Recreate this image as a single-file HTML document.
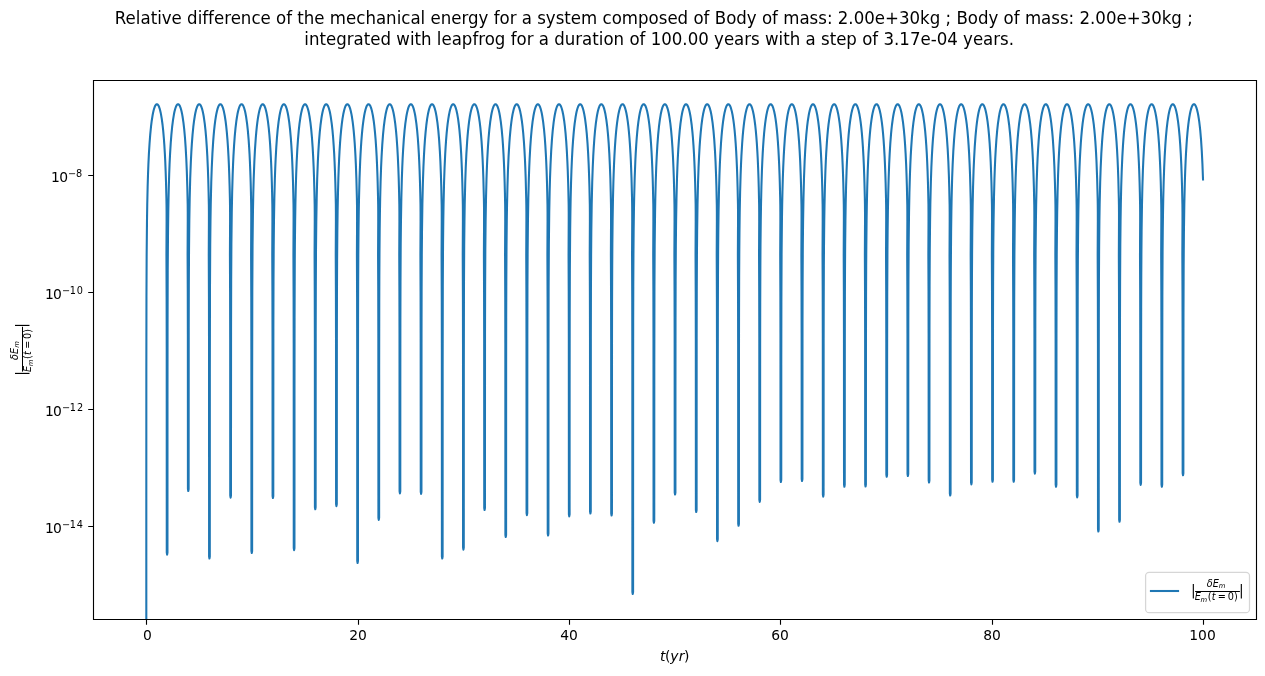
<!DOCTYPE html>
<html><head><meta charset="utf-8"><title>Relative difference of the mechanical energy</title><style>html,body{margin:0;padding:0;background:#fff;overflow:hidden;width:1265px;height:676px}svg{display:block;will-change:transform}text{font-kerning:normal}</style></head><body>
<svg width="1265" height="676" viewBox="0 0 1265 676" font-family="'DejaVu Sans','Liberation Sans',sans-serif" style="font-variant-ligatures:none"><rect x="0" y="0" width="1265" height="676" fill="#fff"/><clipPath id="ax"><rect x="93.470" y="80.000" width="1162.530" height="539.000"/></clipPath><path d="M146.31 3000.00 L146.31 500.20 L146.34 369.90 L146.46 296.94 L146.65 255.26 L146.99 220.78 L147.24 204.56 L147.63 187.22 L148.01 174.44 L148.40 164.37 L148.91 153.67 L149.56 143.19 L150.20 134.90 L150.97 126.98 L151.74 120.72 L152.64 115.03 L153.03 113.03 L153.54 110.73 L154.06 108.82 L154.57 107.26 L154.96 106.31 L155.47 105.33 L155.86 104.79 L156.37 104.35 L156.63 104.24 L156.89 104.20 L157.14 104.24 L157.40 104.35 L157.92 104.79 L158.30 105.33 L158.82 106.31 L159.20 107.26 L159.72 108.82 L160.10 110.22 L160.62 112.42 L161.00 114.33 L161.77 118.94 L162.55 124.74 L163.19 130.70 L163.83 138.00 L164.35 145.09 L164.86 153.67 L165.25 161.45 L165.63 170.84 L166.02 182.57 L166.40 198.08 L166.52 204.56 L166.59 212.02 L166.60 220.78 L166.44 255.26 L166.62 296.94 L166.72 349.05 L166.77 552.32 L166.77 552.65 L167.12 554.65 L167.47 552.65 L167.47 552.32 L167.49 401.17 L167.56 322.99 L167.72 270.88 L168.02 231.39 L168.28 212.02 L168.54 198.08 L168.79 187.22 L169.18 174.44 L169.56 164.37 L170.08 153.67 L170.72 143.19 L171.37 134.90 L172.14 126.98 L173.04 119.81 L173.94 114.33 L174.45 111.83 L174.97 109.73 L175.48 108.00 L175.99 106.61 L176.51 105.54 L176.77 105.13 L177.15 104.65 L177.41 104.43 L177.67 104.28 L177.92 104.21 L178.31 104.24 L178.69 104.43 L178.95 104.65 L179.47 105.33 L179.98 106.31 L180.50 107.62 L181.01 109.26 L181.52 111.27 L182.04 113.67 L182.55 116.50 L183.45 122.65 L184.22 129.42 L185.00 138.00 L185.64 147.07 L186.28 158.70 L186.80 170.84 L187.31 187.22 L187.69 204.56 L187.75 212.02 L187.76 220.78 L187.60 255.26 L187.77 291.73 L187.86 333.42 L187.93 488.95 L188.28 490.95 L188.63 488.95 L188.72 328.21 L188.82 286.51 L189.02 250.05 L189.31 220.78 L189.70 198.08 L190.21 178.33 L190.86 161.45 L191.37 151.36 L191.89 143.19 L192.53 134.90 L193.30 126.98 L194.07 120.72 L194.97 115.03 L195.36 113.03 L195.87 110.73 L196.39 108.82 L196.90 107.26 L197.42 106.04 L197.93 105.13 L198.45 104.53 L198.70 104.35 L198.96 104.24 L199.22 104.20 L199.47 104.24 L199.73 104.35 L199.99 104.53 L200.50 105.13 L201.02 106.04 L201.53 107.26 L202.05 108.82 L202.56 110.73 L202.95 112.42 L203.46 115.03 L203.85 117.28 L204.75 123.67 L205.52 130.70 L206.16 138.00 L206.80 147.07 L207.32 156.12 L207.83 167.49 L208.22 178.33 L208.60 192.35 L208.85 204.56 L208.92 212.02 L208.92 220.78 L208.77 255.26 L208.95 296.94 L209.04 349.05 L209.10 556.45 L209.45 558.45 L209.80 556.45 L209.84 369.90 L209.99 286.51 L210.22 244.85 L210.48 220.78 L210.74 204.56 L211.25 182.57 L211.77 167.49 L212.41 153.67 L213.18 141.38 L213.57 136.42 L214.08 130.70 L214.59 125.84 L215.24 120.72 L215.75 117.28 L216.39 113.67 L217.04 110.73 L217.68 108.40 L218.07 107.26 L218.58 106.04 L218.97 105.33 L219.48 104.65 L219.87 104.35 L220.12 104.24 L220.38 104.20 L220.64 104.24 L220.90 104.35 L221.28 104.65 L221.80 105.33 L222.18 106.04 L222.70 107.26 L223.08 108.40 L223.60 110.22 L223.98 111.83 L224.75 115.75 L225.53 120.72 L226.17 125.84 L226.81 132.05 L227.45 139.65 L227.97 147.07 L228.48 156.12 L228.87 164.37 L229.25 174.44 L229.64 187.22 L229.90 198.08 L230.01 204.56 L230.08 212.02 L230.09 220.78 L229.93 255.26 L230.10 291.73 L230.20 338.63 L230.26 494.99 L230.26 495.65 L230.61 497.65 L230.96 495.65 L230.97 494.99 L231.05 328.21 L231.17 281.30 L231.39 244.85 L231.77 212.02 L232.16 192.35 L232.67 174.44 L233.06 164.37 L233.44 156.12 L234.09 145.09 L234.73 136.42 L235.50 128.18 L236.40 120.72 L236.92 117.28 L237.43 114.33 L237.95 111.83 L238.46 109.73 L238.97 108.00 L239.49 106.61 L240.00 105.54 L240.26 105.13 L240.65 104.65 L240.90 104.43 L241.16 104.28 L241.42 104.21 L241.80 104.24 L242.19 104.43 L242.45 104.65 L242.96 105.33 L243.60 106.61 L244.12 108.00 L244.63 109.73 L245.15 111.83 L245.66 114.33 L246.18 117.28 L247.08 123.67 L247.85 130.70 L248.62 139.65 L249.13 147.07 L249.52 153.67 L249.90 161.45 L250.29 170.84 L250.68 182.57 L250.93 192.35 L251.18 204.56 L251.25 212.02 L251.25 220.78 L251.10 255.26 L251.28 296.94 L251.37 349.05 L251.43 551.05 L251.78 553.05 L252.13 551.05 L252.16 375.11 L252.30 291.73 L252.55 244.85 L252.94 212.02 L253.32 192.35 L253.71 178.33 L254.35 161.45 L254.99 149.16 L255.77 138.00 L256.28 132.05 L256.80 126.98 L257.31 122.65 L257.82 118.94 L258.34 115.75 L258.98 112.42 L259.37 110.73 L259.88 108.82 L260.27 107.62 L260.78 106.31 L261.17 105.54 L261.68 104.79 L262.20 104.35 L262.45 104.24 L262.71 104.20 L262.97 104.24 L263.22 104.35 L263.74 104.79 L264.25 105.54 L264.64 106.31 L265.15 107.62 L265.54 108.82 L266.05 110.73 L266.44 112.42 L267.21 116.50 L267.98 121.67 L268.75 128.18 L269.40 134.90 L270.04 143.19 L270.55 151.36 L271.07 161.45 L271.46 170.84 L271.84 182.57 L272.10 192.35 L272.34 204.56 L272.41 212.02 L272.42 220.78 L272.26 255.26 L272.42 291.73 L272.53 338.63 L272.59 494.99 L272.59 496.05 L272.94 498.05 L273.29 496.05 L273.37 328.21 L273.50 281.30 L273.72 244.85 L273.97 220.78 L274.36 198.08 L274.87 178.33 L275.26 167.49 L275.65 158.70 L276.29 147.07 L276.93 138.00 L277.70 129.42 L278.60 121.67 L279.50 115.75 L280.02 113.03 L280.53 110.73 L281.05 108.82 L281.56 107.26 L282.07 106.04 L282.72 104.95 L283.23 104.43 L283.49 104.28 L283.88 104.20 L284.26 104.28 L284.52 104.43 L285.03 104.95 L285.68 106.04 L286.19 107.26 L286.70 108.82 L287.22 110.73 L287.73 113.03 L288.25 115.75 L289.15 121.67 L290.05 129.42 L290.82 138.00 L291.33 145.09 L291.85 153.67 L292.23 161.45 L292.62 170.84 L293.01 182.57 L293.26 192.35 L293.51 204.56 L293.58 212.02 L293.58 220.78 L293.43 255.26 L293.61 296.94 L293.70 343.84 L293.76 548.15 L294.11 550.15 L294.46 548.15 L294.48 395.96 L294.56 317.78 L294.77 260.47 L294.88 244.85 L295.14 220.78 L295.40 204.56 L295.78 187.22 L296.17 174.44 L296.68 161.45 L297.32 149.16 L297.97 139.65 L298.74 130.70 L299.51 123.67 L300.41 117.28 L300.80 115.03 L301.31 112.42 L301.82 110.22 L302.34 108.40 L302.85 106.92 L303.37 105.78 L303.88 104.95 L304.40 104.43 L304.65 104.28 L304.91 104.21 L305.30 104.24 L305.55 104.35 L306.07 104.79 L306.58 105.54 L307.10 106.61 L307.61 108.00 L308.13 109.73 L308.64 111.83 L309.15 114.33 L309.54 116.50 L310.44 122.65 L311.21 129.42 L311.98 138.00 L312.63 147.07 L313.14 156.12 L313.66 167.49 L314.04 178.33 L314.43 192.35 L314.67 204.56 L314.74 212.02 L314.75 220.78 L314.59 255.26 L314.75 291.73 L314.86 338.63 L314.92 507.25 L315.27 509.25 L315.62 507.25 L315.70 333.42 L315.81 286.51 L316.00 250.05 L316.30 220.78 L316.69 198.08 L317.20 178.33 L317.85 161.45 L318.36 151.36 L319.00 141.38 L319.77 132.05 L320.55 124.74 L321.45 118.09 L321.83 115.75 L322.35 113.03 L322.86 110.73 L323.38 108.82 L323.89 107.26 L324.40 106.04 L324.92 105.13 L325.43 104.53 L325.69 104.35 L325.95 104.24 L326.33 104.21 L326.59 104.28 L326.98 104.53 L327.23 104.79 L327.75 105.54 L328.26 106.61 L328.78 108.00 L329.29 109.73 L329.81 111.83 L330.32 114.33 L330.83 117.28 L331.73 123.67 L332.51 130.70 L333.15 138.00 L333.66 145.09 L334.18 153.67 L334.56 161.45 L334.95 170.84 L335.33 182.57 L335.59 192.35 L335.84 204.56 L335.90 212.02 L335.91 220.78 L335.75 255.26 L335.92 291.73 L336.02 338.63 L336.09 504.15 L336.44 506.15 L336.79 504.15 L336.85 338.63 L336.94 296.94 L337.10 260.47 L337.34 231.39 L337.60 212.02 L337.98 192.35 L338.37 178.33 L338.75 167.49 L339.14 158.70 L339.52 151.36 L340.04 143.19 L340.55 136.42 L341.20 129.42 L341.84 123.67 L342.48 118.94 L343.25 114.33 L344.03 110.73 L344.80 108.00 L345.18 106.92 L345.70 105.78 L346.08 105.13 L346.60 104.53 L346.98 104.28 L347.24 104.21 L347.50 104.21 L347.75 104.28 L348.01 104.43 L348.40 104.79 L348.91 105.54 L349.30 106.31 L349.68 107.26 L350.07 108.40 L350.71 110.73 L351.36 113.67 L352.00 117.28 L352.64 121.67 L353.16 125.84 L353.67 130.70 L354.18 136.42 L354.70 143.19 L355.08 149.16 L355.47 156.12 L355.86 164.37 L356.37 178.33 L356.89 198.08 L357.00 204.56 L357.07 212.02 L357.08 220.78 L356.92 255.26 L357.10 296.94 L357.20 349.05 L357.25 560.95 L357.60 562.95 L357.95 560.95 L357.99 369.90 L358.05 317.78 L358.16 281.30 L358.30 255.26 L358.50 231.39 L358.76 212.02 L359.02 198.08 L359.53 178.33 L360.18 161.45 L360.56 153.67 L360.95 147.07 L361.33 141.38 L361.85 134.90 L362.36 129.42 L362.88 124.74 L363.52 119.81 L364.16 115.75 L364.80 112.42 L365.58 109.26 L366.22 107.26 L366.60 106.31 L366.99 105.54 L367.38 104.95 L367.89 104.43 L368.28 104.24 L368.53 104.20 L368.79 104.24 L369.05 104.35 L369.31 104.53 L369.69 104.95 L370.08 105.54 L370.46 106.31 L370.98 107.62 L371.36 108.82 L372.13 111.83 L372.91 115.75 L373.68 120.72 L374.32 125.84 L374.96 132.05 L375.61 139.65 L376.12 147.07 L376.64 156.12 L377.02 164.37 L377.41 174.44 L377.66 182.57 L378.05 198.08 L378.17 204.56 L378.23 212.02 L378.24 220.78 L378.08 255.26 L378.25 291.73 L378.35 338.63 L378.42 517.85 L378.77 519.85 L379.12 517.85 L379.15 375.11 L379.25 302.15 L379.34 276.09 L379.50 250.05 L379.67 231.39 L379.93 212.02 L380.18 198.08 L380.57 182.57 L381.08 167.49 L381.60 156.12 L382.24 145.09 L383.01 134.90 L383.78 126.98 L384.68 119.81 L385.58 114.33 L385.97 112.42 L386.48 110.22 L387.00 108.40 L387.51 106.92 L388.03 105.78 L388.54 104.95 L389.06 104.43 L389.31 104.28 L389.57 104.21 L389.83 104.21 L390.08 104.28 L390.34 104.43 L390.60 104.65 L391.11 105.33 L391.63 106.31 L392.14 107.62 L392.66 109.26 L393.17 111.27 L393.56 113.03 L394.07 115.75 L394.46 118.09 L395.23 123.67 L396.00 130.70 L396.64 138.00 L397.29 147.07 L397.80 156.12 L398.31 167.49 L398.70 178.33 L399.09 192.35 L399.33 204.56 L399.40 212.02 L399.41 220.78 L399.25 255.26 L399.41 291.73 L399.51 333.42 L399.58 489.77 L399.58 491.35 L399.93 493.35 L400.28 491.35 L400.31 385.54 L400.37 322.99 L400.49 281.30 L400.70 244.85 L400.96 220.78 L401.35 198.08 L401.86 178.33 L402.25 167.49 L402.63 158.70 L403.15 149.16 L403.79 139.65 L404.56 130.70 L405.33 123.67 L406.23 117.28 L406.62 115.03 L407.13 112.42 L407.65 110.22 L408.16 108.40 L408.68 106.92 L409.19 105.78 L409.71 104.95 L410.22 104.43 L410.48 104.28 L410.73 104.21 L411.12 104.24 L411.38 104.35 L411.76 104.65 L412.02 104.95 L412.53 105.78 L413.05 106.92 L413.56 108.40 L414.08 110.22 L414.59 112.42 L415.11 115.03 L415.49 117.28 L416.39 123.67 L417.16 130.70 L417.81 138.00 L418.32 145.09 L418.84 153.67 L419.22 161.45 L419.61 170.84 L419.99 182.57 L420.25 192.35 L420.50 204.56 L420.56 212.02 L420.57 220.78 L420.41 255.26 L420.58 291.73 L420.67 333.42 L420.75 491.85 L421.10 493.85 L421.45 491.85 L421.52 333.42 L421.61 291.73 L421.79 255.26 L422.00 231.39 L422.38 204.56 L422.90 182.57 L423.41 167.49 L423.93 156.12 L424.44 147.07 L424.95 139.65 L425.60 132.05 L426.37 124.74 L427.14 118.94 L427.91 114.33 L428.30 112.42 L428.81 110.22 L429.20 108.82 L429.71 107.26 L430.23 106.04 L430.74 105.13 L431.26 104.53 L431.51 104.35 L431.77 104.24 L432.03 104.20 L432.28 104.24 L432.54 104.35 L432.80 104.53 L433.31 105.13 L433.83 106.04 L434.34 107.26 L434.73 108.40 L435.24 110.22 L435.63 111.83 L436.14 114.33 L436.53 116.50 L437.43 122.65 L438.33 130.70 L439.10 139.65 L439.87 151.36 L440.39 161.45 L440.90 174.44 L441.29 187.22 L441.66 204.56 L441.73 212.02 L441.74 220.78 L441.58 255.26 L441.76 296.94 L441.86 349.05 L441.91 556.45 L442.26 558.45 L442.61 556.45 L442.65 369.90 L442.80 286.51 L443.03 244.85 L443.29 220.78 L443.55 204.56 L444.06 182.57 L444.58 167.49 L445.22 153.67 L445.61 147.07 L446.12 139.65 L446.63 133.44 L447.15 128.18 L447.66 123.67 L448.31 118.94 L448.95 115.03 L449.59 111.83 L450.23 109.26 L450.62 108.00 L451.01 106.92 L451.39 106.04 L451.91 105.13 L452.29 104.65 L452.55 104.43 L452.81 104.28 L453.06 104.21 L453.32 104.21 L453.58 104.28 L453.84 104.43 L454.35 104.95 L454.74 105.54 L455.25 106.61 L455.64 107.62 L456.15 109.26 L456.54 110.73 L457.31 114.33 L458.08 118.94 L458.85 124.74 L459.49 130.70 L460.14 138.00 L460.65 145.09 L461.17 153.67 L461.55 161.45 L461.94 170.84 L462.32 182.57 L462.71 198.08 L462.83 204.56 L462.89 212.02 L462.90 220.78 L462.74 255.26 L462.92 296.94 L463.01 343.84 L463.07 547.11 L463.07 547.65 L463.42 549.65 L463.77 547.65 L463.81 369.90 L463.96 286.51 L464.20 244.85 L464.46 220.78 L464.71 204.56 L465.23 182.57 L465.74 167.49 L466.38 153.67 L467.16 141.38 L467.54 136.42 L468.06 130.70 L468.57 125.84 L469.21 120.72 L469.86 116.50 L470.50 113.03 L471.14 110.22 L471.91 107.62 L472.30 106.61 L472.81 105.54 L473.20 104.95 L473.71 104.43 L474.10 104.24 L474.36 104.20 L474.61 104.24 L474.87 104.35 L475.13 104.53 L475.51 104.95 L476.03 105.78 L476.41 106.61 L476.93 108.00 L477.31 109.26 L477.83 111.27 L478.21 113.03 L478.99 117.28 L479.76 122.65 L480.40 128.18 L481.04 134.90 L481.56 141.38 L482.07 149.16 L482.59 158.70 L482.97 167.49 L483.36 178.33 L483.87 198.08 L483.99 204.56 L484.06 212.02 L484.07 220.78 L483.91 255.26 L484.07 291.73 L484.17 338.63 L484.24 507.95 L484.59 509.95 L484.94 507.95 L485.01 333.42 L485.13 286.51 L485.32 250.05 L485.62 220.78 L486.01 198.08 L486.52 178.33 L486.91 167.49 L487.29 158.70 L487.93 147.07 L488.58 138.00 L489.35 129.42 L490.25 121.67 L491.15 115.75 L491.66 113.03 L492.18 110.73 L492.69 108.82 L493.21 107.26 L493.72 106.04 L494.36 104.95 L494.88 104.43 L495.14 104.28 L495.52 104.20 L495.91 104.28 L496.16 104.43 L496.68 104.95 L497.32 106.04 L497.84 107.26 L498.35 108.82 L498.87 110.73 L499.38 113.03 L499.89 115.75 L500.79 121.67 L501.69 129.42 L502.47 138.00 L502.98 145.09 L503.49 153.67 L503.88 161.45 L504.27 170.84 L504.65 182.57 L504.91 192.35 L505.15 204.56 L505.22 212.02 L505.23 220.78 L505.07 255.26 L505.25 296.94 L505.34 343.84 L505.40 534.95 L505.75 536.95 L506.10 534.95 L506.14 364.69 L506.20 317.78 L506.31 281.30 L506.53 244.85 L506.78 220.78 L507.04 204.56 L507.43 187.22 L507.94 170.84 L508.58 156.12 L509.36 143.19 L509.74 138.00 L510.26 132.05 L510.77 126.98 L511.29 122.65 L511.80 118.94 L512.44 115.03 L512.96 112.42 L513.60 109.73 L513.99 108.40 L514.50 106.92 L515.01 105.78 L515.53 104.95 L515.91 104.53 L516.17 104.35 L516.43 104.24 L516.69 104.20 L516.94 104.24 L517.20 104.35 L517.46 104.53 L517.97 105.13 L518.49 106.04 L519.00 107.26 L519.39 108.40 L519.90 110.22 L520.29 111.83 L521.06 115.75 L521.83 120.72 L522.60 126.98 L523.24 133.44 L523.89 141.38 L524.40 149.16 L524.92 158.70 L525.30 167.49 L525.69 178.33 L526.20 198.08 L526.32 204.56 L526.39 212.02 L526.39 220.78 L526.24 255.26 L526.40 291.73 L526.50 338.63 L526.57 513.15 L526.92 515.15 L527.27 513.15 L527.34 333.42 L527.45 286.51 L527.65 250.05 L527.95 220.78 L528.33 198.08 L528.85 178.33 L529.24 167.49 L529.62 158.70 L530.26 147.07 L530.91 138.00 L531.68 129.42 L532.58 121.67 L533.48 115.75 L533.99 113.03 L534.51 110.73 L535.02 108.82 L535.54 107.26 L536.05 106.04 L536.69 104.95 L537.21 104.43 L537.47 104.28 L537.85 104.20 L538.24 104.28 L538.49 104.43 L539.01 104.95 L539.65 106.04 L540.17 107.26 L540.68 108.82 L541.19 110.73 L541.71 113.03 L542.22 115.75 L543.12 121.67 L544.02 129.42 L544.80 138.00 L545.31 145.09 L545.82 153.67 L546.21 161.45 L546.60 170.84 L546.98 182.57 L547.24 192.35 L547.48 204.56 L547.55 212.02 L547.56 220.78 L547.40 255.26 L547.58 296.94 L547.67 343.84 L547.73 533.45 L548.08 535.45 L548.43 533.45 L548.47 364.69 L548.62 286.51 L548.86 244.85 L549.24 212.02 L549.63 192.35 L550.01 178.33 L550.53 164.37 L551.17 151.36 L551.94 139.65 L552.71 130.70 L553.61 122.65 L554.13 118.94 L554.64 115.75 L555.03 113.67 L555.54 111.27 L555.93 109.73 L556.44 108.00 L556.96 106.61 L557.47 105.54 L557.99 104.79 L558.50 104.35 L558.76 104.24 L559.02 104.20 L559.27 104.24 L559.53 104.35 L560.04 104.79 L560.56 105.54 L561.07 106.61 L561.59 108.00 L562.10 109.73 L562.49 111.27 L563.00 113.67 L563.39 115.75 L564.16 120.72 L564.93 126.98 L565.57 133.44 L566.22 141.38 L566.86 151.36 L567.37 161.45 L567.76 170.84 L568.15 182.57 L568.40 192.35 L568.65 204.56 L568.72 212.02 L568.72 220.78 L568.57 255.26 L568.73 291.73 L568.83 338.63 L568.90 514.35 L569.25 516.35 L569.60 514.35 L569.62 385.54 L569.70 317.78 L569.85 270.88 L570.15 231.39 L570.41 212.02 L570.66 198.08 L571.05 182.57 L571.44 170.84 L571.95 158.70 L572.46 149.16 L573.11 139.65 L573.75 132.05 L574.14 128.18 L574.65 123.67 L575.55 117.28 L576.07 114.33 L576.58 111.83 L577.09 109.73 L577.61 108.00 L578.12 106.61 L578.64 105.54 L579.15 104.79 L579.41 104.53 L579.79 104.28 L580.05 104.21 L580.44 104.24 L580.69 104.35 L580.95 104.53 L581.34 104.95 L581.59 105.33 L582.11 106.31 L582.62 107.62 L583.14 109.26 L583.65 111.27 L584.17 113.67 L584.68 116.50 L585.07 118.94 L585.97 125.84 L586.74 133.44 L587.51 143.19 L588.15 153.67 L588.67 164.37 L589.05 174.44 L589.44 187.22 L589.81 204.56 L589.88 212.02 L589.89 220.78 L589.73 255.26 L589.89 291.73 L590.00 338.63 L590.06 510.62 L590.06 511.45 L590.41 513.45 L590.76 511.45 L590.76 510.62 L590.83 338.63 L590.93 291.73 L591.11 255.26 L591.31 231.39 L591.70 204.56 L592.21 182.57 L592.73 167.49 L593.24 156.12 L593.76 147.07 L594.40 138.00 L595.04 130.70 L595.82 123.67 L596.59 118.09 L596.97 115.75 L597.49 113.03 L597.87 111.27 L598.39 109.26 L598.90 107.62 L599.42 106.31 L599.93 105.33 L600.44 104.65 L600.70 104.43 L600.96 104.28 L601.22 104.21 L601.47 104.21 L601.73 104.28 L601.99 104.43 L602.50 104.95 L603.02 105.78 L603.53 106.92 L604.05 108.40 L604.56 110.22 L605.07 112.42 L605.46 114.33 L606.36 119.81 L607.26 126.98 L608.03 134.90 L608.67 143.19 L609.32 153.67 L609.83 164.37 L610.35 178.33 L610.73 192.35 L610.98 204.56 L611.05 212.02 L611.05 220.78 L610.89 255.26 L611.06 291.73 L611.16 338.63 L611.23 513.55 L611.58 515.55 L611.93 513.55 L611.99 343.84 L612.06 302.15 L612.21 265.68 L612.35 244.85 L612.61 220.78 L612.99 198.08 L613.38 182.57 L613.64 174.44 L614.02 164.37 L614.41 156.12 L614.92 147.07 L615.44 139.65 L615.95 133.44 L616.47 128.18 L617.11 122.65 L617.75 118.09 L618.52 113.67 L619.29 110.22 L620.07 107.62 L620.45 106.61 L620.84 105.78 L621.22 105.13 L621.74 104.53 L622.12 104.28 L622.38 104.21 L622.64 104.21 L623.02 104.35 L623.41 104.65 L623.80 105.13 L624.18 105.78 L624.57 106.61 L624.95 107.62 L625.72 110.22 L626.37 113.03 L627.14 117.28 L627.78 121.67 L628.42 126.98 L628.94 132.05 L629.45 138.00 L629.97 145.09 L630.48 153.67 L630.87 161.45 L631.51 178.33 L632.03 198.08 L632.14 204.56 L632.21 212.02 L632.22 220.78 L632.06 255.26 L632.24 296.94 L632.34 354.26 L632.39 591.95 L632.74 593.95 L633.09 591.95 L633.12 375.11 L633.18 322.99 L633.28 286.51 L633.44 255.26 L633.64 231.39 L633.90 212.02 L634.16 198.08 L634.67 178.33 L635.32 161.45 L635.70 153.67 L636.22 145.09 L636.73 138.00 L637.24 132.05 L637.76 126.98 L638.40 121.67 L639.04 117.28 L639.82 113.03 L640.59 109.73 L641.36 107.26 L641.75 106.31 L642.13 105.54 L642.52 104.95 L643.03 104.43 L643.42 104.24 L643.67 104.20 L643.93 104.24 L644.32 104.43 L644.70 104.79 L645.22 105.54 L645.60 106.31 L645.99 107.26 L646.37 108.40 L647.15 111.27 L647.92 115.03 L648.69 119.81 L649.33 124.74 L649.98 130.70 L650.49 136.42 L651.00 143.19 L651.52 151.36 L651.90 158.70 L652.29 167.49 L652.68 178.33 L652.93 187.22 L653.31 204.56 L653.37 212.02 L653.38 220.78 L653.22 255.26 L653.39 291.73 L653.49 338.63 L653.56 520.75 L653.91 522.75 L654.26 520.75 L654.30 364.69 L654.44 286.51 L654.68 244.85 L655.07 212.02 L655.32 198.08 L655.71 182.57 L656.22 167.49 L656.74 156.12 L657.38 145.09 L658.15 134.90 L658.92 126.98 L659.82 119.81 L660.72 114.33 L661.11 112.42 L661.62 110.22 L662.14 108.40 L662.65 106.92 L663.17 105.78 L663.68 104.95 L664.20 104.43 L664.45 104.28 L664.71 104.21 L664.97 104.21 L665.22 104.28 L665.48 104.43 L665.74 104.65 L666.25 105.33 L666.77 106.31 L667.28 107.62 L667.80 109.26 L668.31 111.27 L668.70 113.03 L669.21 115.75 L669.60 118.09 L670.37 123.67 L671.14 130.70 L671.78 138.00 L672.43 147.07 L672.94 156.12 L673.45 167.49 L673.84 178.33 L674.23 192.35 L674.47 204.56 L674.54 212.02 L674.55 220.78 L674.39 255.26 L674.55 291.73 L674.65 333.42 L674.72 492.55 L675.07 494.55 L675.42 492.55 L675.45 385.54 L675.51 322.99 L675.63 281.30 L675.84 244.85 L676.10 220.78 L676.49 198.08 L677.00 178.33 L677.39 167.49 L677.77 158.70 L678.29 149.16 L678.93 139.65 L679.70 130.70 L680.47 123.67 L681.37 117.28 L681.89 114.33 L682.40 111.83 L682.92 109.73 L683.43 108.00 L683.95 106.61 L684.46 105.54 L684.97 104.79 L685.49 104.35 L685.75 104.24 L686.13 104.21 L686.39 104.28 L686.65 104.43 L687.03 104.79 L687.29 105.13 L687.80 106.04 L688.32 107.26 L688.83 108.82 L689.35 110.73 L689.86 113.03 L690.38 115.75 L690.76 118.09 L691.66 124.74 L692.43 132.05 L692.95 138.00 L693.46 145.09 L693.98 153.67 L694.36 161.45 L694.75 170.84 L695.13 182.57 L695.39 192.35 L695.64 204.56 L695.70 212.02 L695.71 220.78 L695.55 255.26 L695.72 291.73 L695.82 338.63 L695.89 510.05 L696.24 512.05 L696.59 510.05 L696.65 338.63 L696.75 291.73 L696.93 255.26 L697.14 231.39 L697.52 204.56 L698.04 182.57 L698.55 167.49 L699.07 156.12 L699.58 147.07 L700.10 139.65 L700.74 132.05 L701.51 124.74 L702.28 118.94 L703.05 114.33 L703.44 112.42 L703.95 110.22 L704.34 108.82 L704.85 107.26 L705.37 106.04 L705.88 105.13 L706.40 104.53 L706.65 104.35 L706.91 104.24 L707.17 104.20 L707.43 104.24 L707.68 104.35 L707.94 104.53 L708.45 105.13 L708.97 106.04 L709.48 107.26 L709.87 108.40 L710.38 110.22 L710.77 111.83 L711.28 114.33 L711.67 116.50 L712.57 122.65 L713.47 130.70 L714.24 139.65 L715.01 151.36 L715.53 161.45 L716.04 174.44 L716.43 187.22 L716.80 204.56 L716.87 212.02 L716.88 220.78 L716.72 255.26 L716.90 296.94 L716.99 343.84 L717.05 539.15 L717.40 541.15 L717.75 539.15 L717.79 359.48 L717.86 312.57 L717.98 276.09 L718.13 250.05 L718.30 231.39 L718.56 212.02 L718.95 192.35 L719.46 174.44 L719.85 164.37 L720.23 156.12 L721.00 143.19 L721.52 136.42 L722.03 130.70 L722.55 125.84 L723.19 120.72 L723.83 116.50 L724.60 112.42 L725.38 109.26 L725.76 108.00 L726.15 106.92 L726.53 106.04 L726.92 105.33 L727.30 104.79 L727.69 104.43 L728.08 104.24 L728.33 104.20 L728.59 104.24 L728.98 104.43 L729.36 104.79 L729.88 105.54 L730.26 106.31 L730.65 107.26 L731.03 108.40 L731.80 111.27 L732.58 115.03 L733.35 119.81 L733.99 124.74 L734.63 130.70 L735.15 136.42 L735.66 143.19 L736.18 151.36 L736.56 158.70 L736.95 167.49 L737.33 178.33 L737.59 187.22 L737.97 204.56 L738.03 212.02 L738.04 220.78 L737.88 255.26 L738.06 296.94 L738.15 343.84 L738.22 523.75 L738.57 525.75 L738.92 523.75 L738.96 354.26 L739.03 312.57 L739.14 276.09 L739.30 250.05 L739.47 231.39 L739.72 212.02 L740.11 192.35 L740.62 174.44 L741.01 164.37 L741.40 156.12 L742.17 143.19 L742.68 136.42 L743.20 130.70 L743.71 125.84 L744.35 120.72 L745.00 116.50 L745.77 112.42 L746.54 109.26 L746.93 108.00 L747.31 106.92 L747.70 106.04 L748.08 105.33 L748.47 104.79 L748.85 104.43 L749.24 104.24 L749.50 104.20 L749.75 104.24 L750.14 104.43 L750.53 104.79 L751.04 105.54 L751.43 106.31 L751.81 107.26 L752.20 108.40 L752.97 111.27 L753.74 115.03 L754.51 119.81 L755.16 124.74 L755.80 130.70 L756.31 136.42 L756.83 143.19 L757.34 151.36 L757.73 158.70 L758.11 167.49 L758.50 178.33 L758.76 187.22 L759.13 204.56 L759.20 212.02 L759.21 220.78 L759.05 255.26 L759.21 291.73 L759.31 338.63 L759.38 499.85 L759.73 501.85 L760.08 499.85 L760.14 343.84 L760.22 302.15 L760.36 265.68 L760.50 244.85 L760.76 220.78 L761.02 204.56 L761.40 187.22 L761.92 170.84 L762.30 161.45 L762.69 153.67 L763.07 147.07 L763.59 139.65 L764.10 133.44 L764.62 128.18 L765.13 123.67 L765.78 118.94 L766.42 115.03 L767.06 111.83 L767.70 109.26 L768.09 108.00 L768.48 106.92 L768.86 106.04 L769.25 105.33 L769.63 104.79 L770.02 104.43 L770.40 104.24 L770.66 104.20 L770.92 104.24 L771.30 104.43 L771.69 104.79 L772.21 105.54 L772.59 106.31 L772.98 107.26 L773.36 108.40 L774.13 111.27 L774.91 115.03 L775.55 118.94 L776.19 123.67 L776.83 129.42 L777.35 134.90 L777.86 141.38 L778.38 149.16 L778.76 156.12 L779.15 164.37 L779.54 174.44 L779.79 182.57 L780.18 198.08 L780.30 204.56 L780.36 212.02 L780.37 220.78 L780.21 255.26 L780.38 291.73 L780.47 333.42 L780.54 479.35 L780.54 479.95 L780.89 481.95 L781.24 479.95 L781.25 479.35 L781.28 364.69 L781.38 302.15 L781.59 255.26 L781.92 220.78 L782.18 204.56 L782.44 192.35 L782.82 178.33 L783.21 167.49 L783.73 156.12 L784.24 147.07 L784.88 138.00 L785.65 129.42 L786.43 122.65 L787.33 116.50 L787.84 113.67 L788.35 111.27 L788.87 109.26 L789.38 107.62 L789.90 106.31 L790.41 105.33 L790.93 104.65 L791.18 104.43 L791.57 104.24 L791.96 104.21 L792.21 104.28 L792.47 104.43 L792.73 104.65 L793.24 105.33 L793.76 106.31 L794.27 107.62 L794.78 109.26 L795.30 111.27 L795.68 113.03 L796.20 115.75 L796.58 118.09 L797.48 124.74 L798.26 132.05 L799.03 141.38 L799.67 151.36 L800.19 161.45 L800.70 174.44 L801.09 187.22 L801.46 204.56 L801.53 212.02 L801.53 220.78 L801.38 255.26 L801.54 291.73 L801.63 333.42 L801.71 479.05 L802.06 481.05 L802.41 479.05 L802.50 322.99 L802.62 281.30 L802.83 244.85 L803.09 220.78 L803.48 198.08 L803.99 178.33 L804.63 161.45 L805.15 151.36 L805.66 143.19 L806.30 134.90 L807.08 126.98 L807.85 120.72 L808.75 115.03 L809.13 113.03 L809.65 110.73 L810.03 109.26 L810.55 107.62 L810.93 106.61 L811.45 105.54 L811.96 104.79 L812.48 104.35 L812.73 104.24 L812.99 104.20 L813.25 104.24 L813.51 104.35 L814.02 104.79 L814.53 105.54 L815.05 106.61 L815.56 108.00 L816.08 109.73 L816.46 111.27 L816.98 113.67 L817.36 115.75 L818.26 121.67 L819.04 128.18 L819.81 136.42 L820.45 145.09 L820.96 153.67 L821.48 164.37 L821.99 178.33 L822.38 192.35 L822.62 204.56 L822.69 212.02 L822.70 220.78 L822.54 255.26 L822.71 291.73 L822.80 333.42 L822.87 494.65 L823.22 496.65 L823.57 494.65 L823.63 343.84 L823.71 302.15 L823.85 265.68 L824.00 244.85 L824.25 220.78 L824.51 204.56 L824.90 187.22 L825.41 170.84 L825.80 161.45 L826.18 153.67 L826.95 141.38 L827.47 134.90 L827.98 129.42 L828.50 124.74 L829.14 119.81 L829.78 115.75 L830.43 112.42 L831.07 109.73 L831.84 107.26 L832.23 106.31 L832.61 105.54 L833.00 104.95 L833.38 104.53 L833.77 104.28 L834.03 104.21 L834.28 104.21 L834.67 104.35 L835.06 104.65 L835.44 105.13 L835.83 105.78 L836.21 106.61 L836.60 107.62 L837.37 110.22 L838.14 113.67 L838.91 118.09 L839.56 122.65 L840.20 128.18 L840.71 133.44 L841.23 139.65 L841.74 147.07 L842.26 156.12 L842.64 164.37 L843.03 174.44 L843.29 182.57 L843.67 198.08 L843.79 204.56 L843.86 212.02 L843.86 220.78 L843.71 255.26 L843.87 291.73 L843.96 333.42 L844.03 484.56 L844.39 486.75 L844.74 484.56 L844.81 338.63 L844.89 296.94 L845.02 265.68 L845.16 244.85 L845.42 220.78 L845.68 204.56 L846.06 187.22 L846.58 170.84 L846.96 161.45 L847.35 153.67 L848.12 141.38 L848.63 134.90 L849.15 129.42 L849.66 124.74 L850.31 119.81 L850.95 115.75 L851.59 112.42 L852.23 109.73 L853.01 107.26 L853.39 106.31 L853.78 105.54 L854.16 104.95 L854.55 104.53 L854.93 104.28 L855.19 104.21 L855.45 104.21 L855.83 104.35 L856.22 104.65 L856.61 105.13 L856.99 105.78 L857.38 106.61 L857.76 107.62 L858.54 110.22 L859.31 113.67 L860.08 118.09 L860.72 122.65 L861.36 128.18 L861.88 133.44 L862.39 139.65 L862.91 147.07 L863.42 156.12 L863.81 164.37 L864.19 174.44 L864.45 182.57 L864.84 198.08 L864.95 204.56 L865.02 212.02 L865.03 220.78 L864.87 255.26 L865.03 291.73 L865.13 333.42 L865.20 484.45 L865.55 486.45 L865.90 484.45 L865.97 338.63 L866.05 296.94 L866.18 265.68 L866.33 244.85 L866.58 220.78 L866.84 204.56 L867.23 187.22 L867.74 170.84 L868.13 161.45 L868.51 153.67 L869.28 141.38 L869.80 134.90 L870.31 129.42 L870.83 124.74 L871.47 119.81 L872.11 115.75 L872.76 112.42 L873.40 109.73 L874.17 107.26 L874.56 106.31 L874.94 105.54 L875.33 104.95 L875.71 104.53 L876.10 104.28 L876.36 104.21 L876.61 104.21 L877.00 104.35 L877.39 104.65 L877.77 105.13 L878.16 105.78 L878.54 106.61 L878.93 107.62 L879.70 110.22 L880.47 113.67 L881.24 118.09 L881.89 122.65 L882.53 128.18 L883.04 133.44 L883.56 139.65 L884.07 147.07 L884.59 156.12 L884.97 164.37 L885.36 174.44 L885.62 182.57 L886.00 198.08 L886.12 204.56 L886.19 212.02 L886.19 220.78 L886.04 255.26 L886.20 291.73 L886.29 333.42 L886.36 474.14 L886.37 474.75 L886.72 476.75 L887.07 474.75 L887.07 474.14 L887.11 359.48 L887.22 296.94 L887.45 250.05 L887.62 231.39 L887.88 212.02 L888.26 192.35 L888.65 178.33 L889.16 164.37 L889.68 153.67 L890.32 143.19 L891.09 133.44 L891.48 129.42 L891.99 124.74 L892.89 118.09 L893.28 115.75 L893.79 113.03 L894.18 111.27 L894.69 109.26 L895.08 108.00 L895.59 106.61 L896.11 105.54 L896.62 104.79 L897.14 104.35 L897.39 104.24 L897.65 104.20 L897.91 104.24 L898.16 104.35 L898.68 104.79 L899.19 105.54 L899.71 106.61 L900.22 108.00 L900.61 109.26 L901.12 111.27 L901.51 113.03 L902.28 117.28 L903.05 122.65 L903.82 129.42 L904.47 136.42 L905.11 145.09 L905.62 153.67 L906.14 164.37 L906.52 174.44 L906.91 187.22 L907.28 204.56 L907.35 212.02 L907.36 220.78 L907.20 255.26 L907.36 291.73 L907.46 333.42 L907.53 474.05 L907.88 476.05 L908.23 474.05 L908.32 322.99 L908.44 281.30 L908.66 244.85 L909.04 212.02 L909.43 192.35 L909.94 174.44 L910.33 164.37 L910.71 156.12 L911.23 147.07 L911.87 138.00 L912.64 129.42 L913.41 122.65 L914.31 116.50 L914.70 114.33 L915.21 111.83 L915.73 109.73 L916.24 108.00 L916.76 106.61 L917.27 105.54 L917.79 104.79 L918.30 104.35 L918.56 104.24 L918.94 104.21 L919.20 104.28 L919.46 104.43 L919.97 104.95 L920.49 105.78 L921.00 106.92 L921.52 108.40 L922.03 110.22 L922.54 112.42 L923.06 115.03 L923.44 117.28 L924.34 123.67 L925.12 130.70 L925.76 138.00 L926.27 145.09 L926.79 153.67 L927.17 161.45 L927.56 170.84 L927.94 182.57 L928.20 192.35 L928.45 204.56 L928.51 212.02 L928.52 220.78 L928.36 255.26 L928.53 291.73 L928.62 333.42 L928.69 479.35 L928.70 480.45 L929.05 482.45 L929.40 480.45 L929.40 479.35 L929.48 328.21 L929.58 286.51 L929.78 250.05 L930.08 220.78 L930.33 204.56 L930.85 182.57 L931.36 167.49 L931.88 156.12 L932.39 147.07 L932.91 139.65 L933.55 132.05 L934.19 125.84 L934.96 119.81 L935.74 115.03 L936.12 113.03 L936.64 110.73 L937.02 109.26 L937.54 107.62 L937.92 106.61 L938.44 105.54 L938.82 104.95 L939.34 104.43 L939.59 104.28 L939.85 104.21 L940.11 104.21 L940.36 104.28 L940.62 104.43 L940.88 104.65 L941.39 105.33 L941.91 106.31 L942.29 107.26 L942.81 108.82 L943.19 110.22 L943.71 112.42 L944.09 114.33 L944.61 117.28 L945.12 120.72 L945.64 124.74 L946.15 129.42 L946.92 138.00 L947.69 149.16 L948.34 161.45 L948.85 174.44 L949.24 187.22 L949.61 204.56 L949.68 212.02 L949.69 220.78 L949.53 255.26 L949.69 291.73 L949.79 333.42 L949.86 493.45 L950.21 495.45 L950.56 493.45 L950.62 343.84 L950.70 302.15 L950.81 270.88 L951.11 231.39 L951.37 212.02 L951.63 198.08 L952.14 178.33 L952.66 164.37 L953.30 151.36 L954.07 139.65 L954.46 134.90 L954.97 129.42 L955.49 124.74 L956.00 120.72 L956.51 117.28 L957.16 113.67 L957.67 111.27 L958.31 108.82 L958.70 107.62 L959.21 106.31 L959.60 105.54 L960.12 104.79 L960.50 104.43 L960.76 104.28 L961.02 104.21 L961.27 104.21 L961.53 104.28 L961.92 104.53 L962.43 105.13 L962.82 105.78 L963.33 106.92 L963.72 108.00 L964.23 109.73 L964.62 111.27 L965.39 115.03 L966.16 119.81 L966.80 124.74 L967.44 130.70 L968.09 138.00 L968.60 145.09 L969.12 153.67 L969.63 164.37 L970.02 174.44 L970.40 187.22 L970.66 198.08 L970.78 204.56 L970.84 212.02 L970.85 220.78 L970.69 255.26 L970.86 291.73 L970.95 333.42 L971.03 482.35 L971.38 484.35 L971.73 482.35 L971.78 349.05 L971.85 307.36 L971.95 276.09 L972.11 250.05 L972.28 231.39 L972.66 204.56 L973.05 187.22 L973.56 170.84 L974.08 158.70 L974.72 147.07 L975.49 136.42 L975.88 132.05 L976.39 126.98 L976.91 122.65 L977.42 118.94 L977.94 115.75 L978.45 113.03 L978.84 111.27 L979.35 109.26 L979.74 108.00 L980.25 106.61 L980.64 105.78 L981.15 104.95 L981.67 104.43 L981.92 104.28 L982.18 104.21 L982.44 104.21 L982.69 104.28 L982.95 104.43 L983.21 104.65 L983.72 105.33 L984.11 106.04 L984.62 107.26 L985.14 108.82 L985.65 110.73 L986.04 112.42 L986.81 116.50 L987.58 121.67 L988.35 128.18 L989.00 134.90 L989.64 143.19 L990.15 151.36 L990.67 161.45 L991.05 170.84 L991.44 182.57 L991.70 192.35 L991.94 204.56 L992.01 212.02 L992.02 220.78 L991.86 255.26 L992.02 291.73 L992.12 333.42 L992.19 479.35 L992.19 479.75 L992.54 481.75 L992.89 479.75 L992.89 479.35 L992.98 322.99 L993.10 281.30 L993.31 244.85 L993.57 220.78 L993.96 198.08 L994.47 178.33 L994.86 167.49 L995.24 158.70 L995.76 149.16 L996.40 139.65 L997.17 130.70 L997.94 123.67 L998.84 117.28 L999.36 114.33 L999.87 111.83 L1000.39 109.73 L1000.90 108.00 L1001.42 106.61 L1001.93 105.54 L1002.44 104.79 L1002.96 104.35 L1003.22 104.24 L1003.60 104.21 L1003.86 104.28 L1004.12 104.43 L1004.50 104.79 L1004.76 105.13 L1005.27 106.04 L1005.79 107.26 L1006.30 108.82 L1006.82 110.73 L1007.33 113.03 L1007.85 115.75 L1008.23 118.09 L1009.13 124.74 L1009.90 132.05 L1010.42 138.00 L1010.93 145.09 L1011.45 153.67 L1011.83 161.45 L1012.22 170.84 L1012.60 182.57 L1012.86 192.35 L1013.11 204.56 L1013.17 212.02 L1013.18 220.78 L1013.02 255.26 L1013.19 291.73 L1013.28 333.42 L1013.35 479.35 L1013.36 479.75 L1013.71 481.75 L1014.06 479.75 L1014.06 479.35 L1014.10 364.69 L1014.19 302.15 L1014.40 255.26 L1014.74 220.78 L1014.99 204.56 L1015.25 192.35 L1015.64 178.33 L1016.02 167.49 L1016.54 156.12 L1017.05 147.07 L1017.56 139.65 L1018.21 132.05 L1018.98 124.74 L1019.88 118.09 L1020.27 115.75 L1020.78 113.03 L1021.29 110.73 L1021.81 108.82 L1022.32 107.26 L1022.84 106.04 L1023.35 105.13 L1023.61 104.79 L1023.99 104.43 L1024.25 104.28 L1024.51 104.21 L1024.89 104.24 L1025.15 104.35 L1025.67 104.79 L1026.18 105.54 L1026.70 106.61 L1027.21 108.00 L1027.72 109.73 L1028.24 111.83 L1028.75 114.33 L1029.27 117.28 L1030.17 123.67 L1030.94 130.70 L1031.71 139.65 L1032.35 149.16 L1032.87 158.70 L1033.38 170.84 L1033.90 187.22 L1034.27 204.56 L1034.34 212.02 L1034.35 220.78 L1034.19 255.26 L1034.35 291.73 L1034.44 328.21 L1034.52 471.65 L1034.87 473.65 L1035.22 471.65 L1035.31 322.99 L1035.43 281.30 L1035.60 250.05 L1035.90 220.78 L1036.16 204.56 L1036.67 182.57 L1037.19 167.49 L1037.57 158.70 L1038.09 149.16 L1038.60 141.38 L1039.12 134.90 L1039.76 128.18 L1040.40 122.65 L1041.17 117.28 L1041.94 113.03 L1042.72 109.73 L1043.10 108.40 L1043.62 106.92 L1044.00 106.04 L1044.52 105.13 L1044.90 104.65 L1045.16 104.43 L1045.42 104.28 L1045.67 104.21 L1045.93 104.21 L1046.32 104.35 L1046.83 104.79 L1047.22 105.33 L1047.73 106.31 L1048.12 107.26 L1048.63 108.82 L1049.02 110.22 L1049.66 113.03 L1050.17 115.75 L1050.69 118.94 L1051.20 122.65 L1052.10 130.70 L1052.62 136.42 L1053.00 141.38 L1053.78 153.67 L1054.42 167.49 L1054.93 182.57 L1055.32 198.08 L1055.44 204.56 L1055.50 212.02 L1055.51 220.78 L1055.35 255.26 L1055.52 291.73 L1055.61 333.42 L1055.68 484.56 L1056.03 486.75 L1056.39 484.56 L1056.46 333.42 L1056.55 291.73 L1056.73 255.26 L1056.94 231.39 L1057.19 212.02 L1057.58 192.35 L1058.09 174.44 L1058.48 164.37 L1058.87 156.12 L1059.25 149.16 L1059.77 141.38 L1060.28 134.90 L1060.92 128.18 L1061.57 122.65 L1062.21 118.09 L1062.98 113.67 L1063.75 110.22 L1064.52 107.62 L1064.91 106.61 L1065.30 105.78 L1065.68 105.13 L1066.07 104.65 L1066.45 104.35 L1066.71 104.24 L1066.97 104.20 L1067.22 104.24 L1067.48 104.35 L1067.87 104.65 L1068.25 105.13 L1068.64 105.78 L1069.02 106.61 L1069.41 107.62 L1070.05 109.73 L1070.70 112.42 L1071.34 115.75 L1071.98 119.81 L1072.63 124.74 L1073.14 129.42 L1073.65 134.90 L1074.17 141.38 L1074.55 147.07 L1074.94 153.67 L1075.33 161.45 L1075.97 178.33 L1076.48 198.08 L1076.60 204.56 L1076.67 212.02 L1076.68 220.78 L1076.52 255.26 L1076.68 291.73 L1076.78 338.63 L1076.85 494.99 L1076.85 495.35 L1077.20 497.35 L1077.55 495.35 L1077.55 494.99 L1077.62 338.63 L1077.70 296.94 L1077.86 260.47 L1078.10 231.39 L1078.36 212.02 L1078.74 192.35 L1079.13 178.33 L1079.52 167.49 L1079.90 158.70 L1080.29 151.36 L1080.80 143.19 L1081.32 136.42 L1081.96 129.42 L1082.60 123.67 L1083.25 118.94 L1083.89 115.03 L1084.66 111.27 L1085.43 108.40 L1085.82 107.26 L1086.33 106.04 L1086.72 105.33 L1087.10 104.79 L1087.49 104.43 L1087.75 104.28 L1088.00 104.21 L1088.26 104.21 L1088.52 104.28 L1088.90 104.53 L1089.42 105.13 L1089.80 105.78 L1090.19 106.61 L1090.57 107.62 L1091.22 109.73 L1091.86 112.42 L1092.50 115.75 L1093.15 119.81 L1093.79 124.74 L1094.30 129.42 L1094.82 134.90 L1095.33 141.38 L1095.72 147.07 L1096.10 153.67 L1096.49 161.45 L1097.13 178.33 L1097.65 198.08 L1097.76 204.56 L1097.83 212.02 L1097.84 220.78 L1097.68 255.26 L1097.86 296.94 L1097.95 343.84 L1098.01 529.45 L1098.36 531.45 L1098.71 529.45 L1098.76 359.48 L1098.81 317.78 L1098.92 281.30 L1099.14 244.85 L1099.39 220.78 L1099.65 204.56 L1100.17 182.57 L1100.68 167.49 L1101.32 153.67 L1102.09 141.38 L1102.48 136.42 L1103.00 130.70 L1103.51 125.84 L1104.02 121.67 L1104.54 118.09 L1105.18 114.33 L1105.82 111.27 L1106.47 108.82 L1106.85 107.62 L1107.37 106.31 L1107.75 105.54 L1108.27 104.79 L1108.65 104.43 L1108.91 104.28 L1109.17 104.21 L1109.42 104.21 L1109.68 104.28 L1109.94 104.43 L1110.20 104.65 L1110.71 105.33 L1111.23 106.31 L1111.74 107.62 L1112.13 108.82 L1112.64 110.73 L1113.03 112.42 L1113.80 116.50 L1114.57 121.67 L1115.21 126.98 L1115.85 133.44 L1116.50 141.38 L1117.01 149.16 L1117.53 158.70 L1117.91 167.49 L1118.30 178.33 L1118.81 198.08 L1118.93 204.56 L1119.00 212.02 L1119.00 220.78 L1118.85 255.26 L1119.01 291.73 L1119.11 338.63 L1119.18 519.75 L1119.53 521.75 L1119.88 519.75 L1119.92 359.48 L1119.98 317.78 L1120.09 281.30 L1120.30 244.85 L1120.56 220.78 L1120.82 204.56 L1121.20 187.22 L1121.72 170.84 L1122.36 156.12 L1123.00 145.09 L1123.39 139.65 L1123.90 133.44 L1124.29 129.42 L1124.80 124.74 L1125.32 120.72 L1125.96 116.50 L1126.47 113.67 L1127.12 110.73 L1127.50 109.26 L1128.02 107.62 L1128.40 106.61 L1128.92 105.54 L1129.30 104.95 L1129.82 104.43 L1130.08 104.28 L1130.33 104.21 L1130.59 104.21 L1130.85 104.28 L1131.10 104.43 L1131.36 104.65 L1131.75 105.13 L1132.26 106.04 L1132.65 106.92 L1133.16 108.40 L1133.55 109.73 L1134.06 111.83 L1134.45 113.67 L1135.22 118.09 L1135.99 123.67 L1136.63 129.42 L1137.28 136.42 L1137.79 143.19 L1138.31 151.36 L1138.82 161.45 L1139.21 170.84 L1139.59 182.57 L1139.85 192.35 L1140.09 204.56 L1140.16 212.02 L1140.17 220.78 L1140.01 255.26 L1140.18 291.73 L1140.27 333.42 L1140.34 482.85 L1140.69 484.85 L1141.04 482.85 L1141.10 349.05 L1141.17 307.36 L1141.27 276.09 L1141.43 250.05 L1141.60 231.39 L1141.98 204.56 L1142.37 187.22 L1142.88 170.84 L1143.40 158.70 L1144.04 147.07 L1144.81 136.42 L1145.20 132.05 L1145.71 126.98 L1146.22 122.65 L1146.74 118.94 L1147.25 115.75 L1147.77 113.03 L1148.15 111.27 L1148.67 109.26 L1149.05 108.00 L1149.57 106.61 L1149.95 105.78 L1150.47 104.95 L1150.98 104.43 L1151.24 104.28 L1151.50 104.21 L1151.75 104.21 L1152.01 104.28 L1152.27 104.43 L1152.53 104.65 L1153.04 105.33 L1153.43 106.04 L1153.94 107.26 L1154.45 108.82 L1154.97 110.73 L1155.35 112.42 L1156.13 116.50 L1156.90 121.67 L1157.67 128.18 L1158.31 134.90 L1158.96 143.19 L1159.47 151.36 L1159.98 161.45 L1160.37 170.84 L1160.76 182.57 L1161.01 192.35 L1161.26 204.56 L1161.33 212.02 L1161.33 220.78 L1161.18 255.26 L1161.34 291.73 L1161.43 333.42 L1161.50 484.56 L1161.86 486.75 L1162.21 484.56 L1162.25 364.69 L1162.36 296.94 L1162.59 250.05 L1162.76 231.39 L1163.02 212.02 L1163.27 198.08 L1163.66 182.57 L1164.17 167.49 L1164.69 156.12 L1165.33 145.09 L1165.97 136.42 L1166.75 128.18 L1167.52 121.67 L1168.42 115.75 L1168.80 113.67 L1169.32 111.27 L1169.70 109.73 L1170.22 108.00 L1170.73 106.61 L1171.25 105.54 L1171.76 104.79 L1172.28 104.35 L1172.53 104.24 L1172.79 104.20 L1173.05 104.24 L1173.30 104.35 L1173.82 104.79 L1174.33 105.54 L1174.85 106.61 L1175.36 108.00 L1175.88 109.73 L1176.26 111.27 L1176.78 113.67 L1177.16 115.75 L1178.06 121.67 L1178.83 128.18 L1179.61 136.42 L1180.25 145.09 L1180.76 153.67 L1181.28 164.37 L1181.66 174.44 L1182.05 187.22 L1182.42 204.56 L1182.49 212.02 L1182.50 220.78 L1182.34 255.26 L1182.50 291.73 L1182.60 333.42 L1182.67 473.25 L1183.02 475.25 L1183.37 473.25 L1183.41 369.90 L1183.48 312.57 L1183.65 265.68 L1183.92 231.39 L1184.31 204.56 L1184.82 182.57 L1185.21 170.84 L1185.60 161.45 L1185.98 153.67 L1186.50 145.09 L1186.88 139.65 L1187.40 133.44 L1187.78 129.42 L1188.30 124.74 L1188.81 120.72 L1189.33 117.28 L1189.84 114.33 L1190.48 111.27 L1191.13 108.82 L1191.77 106.92 L1192.41 105.54 L1192.67 105.13 L1193.05 104.65 L1193.31 104.43 L1193.70 104.24 L1194.08 104.21 L1194.47 104.35 L1194.86 104.65 L1195.11 104.95 L1195.76 106.04 L1196.40 107.62 L1197.04 109.73 L1197.68 112.42 L1198.20 115.03 L1198.71 118.09 L1199.23 121.67 L1199.74 125.84 L1200.26 130.70 L1201.03 139.65 L1201.80 151.36 L1202.44 164.37 L1203.01 179.49" fill="none" stroke="#1f77b4" stroke-width="2.0833" stroke-linejoin="round" stroke-linecap="square" clip-path="url(#ax)"/><path d="M93.5 619.5V80.5M1256.5 619.5V80.5M93.5 619.5H1256.5M93.5 80.5H1256.5" stroke="#000" stroke-width="1.111" fill="none" stroke-linecap="square"/><path d="M146.5 619.5v5.3M358.5 619.5v5.3M569.5 619.5v5.3M780.5 619.5v5.3M992.5 619.5v5.3M1203.5 619.5v5.3M93.5 175.5h-5.3M93.5 292.5h-5.3M93.5 409.5h-5.3M93.5 526.5h-5.3" stroke="#000" stroke-width="1.111" fill="none"/><g fill="#000"><text x="147.40" y="640.0" text-anchor="middle" font-size="13.889">0</text><text x="358.00" y="640.0" text-anchor="middle" font-size="13.889">20</text><text x="569.00" y="640.0" text-anchor="middle" font-size="13.889">40</text><text x="780.00" y="640.0" text-anchor="middle" font-size="13.889">60</text><text x="992.00" y="640.0" text-anchor="middle" font-size="13.889">80</text><text x="1202.50" y="640.0" text-anchor="middle" font-size="13.889">100</text><text y="182.00" font-size="13.889"><tspan x="50.96">1</tspan><tspan x="59.24">0</tspan></text><text y="176.80" font-size="9.722"><tspan x="67.96">−</tspan><tspan x="75.96">8</tspan></text><text y="299.00" font-size="13.889"><tspan x="45.04">1</tspan><tspan x="53.03">0</tspan></text><text y="293.80" font-size="9.722"><tspan x="62.0">−</tspan><tspan x="69.82">1</tspan><tspan x="76.86">0</tspan></text><text y="416.00" font-size="13.889"><tspan x="45.04">1</tspan><tspan x="53.03">0</tspan></text><text y="410.80" font-size="9.722"><tspan x="62.0">−</tspan><tspan x="69.82">1</tspan><tspan x="77.04">2</tspan></text><text y="533.00" font-size="13.889"><tspan x="45.04">1</tspan><tspan x="53.03">0</tspan></text><text y="527.80" font-size="9.722"><tspan x="62.0">−</tspan><tspan x="69.82">1</tspan><tspan x="76.87">4</tspan></text><text x="0" y="0" transform="matrix(0.998 0 0 1.075 653.8 24.0)" text-anchor="middle" font-size="16.667">Relative difference of the mechanical energy for a system composed of Body of mass: 2.00e+30kg ; Body of mass: 2.00e+30kg ;</text><text x="0" y="0" transform="matrix(0.9972 0 0 1.075 659.2 45.0)" text-anchor="middle" font-size="16.667">integrated with leapfrog for a duration of 100.00 years with a step of 3.17e-04 years.</text><text y="661.0" font-size="13.889"><tspan x="660.06" font-style="oblique">t</tspan><tspan x="664.90">(</tspan><tspan x="670.15" font-style="oblique">y</tspan><tspan x="678.86" font-style="oblique">r</tspan><tspan x="683.99">)</tspan></text><rect x="1145.6" y="572.3" width="103.90000000000009" height="40.40000000000009" rx="3.5" fill="#fff" fill-opacity="0.8" stroke="#d6d6d6" stroke-width="1.25"/><path d="M1150.95 591.0H1178.05" stroke="#1f77b4" stroke-width="2.0833" stroke-linecap="square"/><g transform="translate(1193.3 591.3)"><text x="0" y="3.36" text-anchor="middle" font-size="13.889">|</text><text x="48.1" y="3.36" text-anchor="middle" font-size="13.889">|</text><rect x="1.8" y="-0.3" width="44.80" height="1.0" fill="#000"/><text x="13.45" y="-4.4" font-size="9.722" font-style="oblique">δE<tspan dy="1.0" font-size="6.806">m</tspan></text><text y="8.6" font-size="9.722"><tspan x="1.39" font-style="oblique">E</tspan><tspan x="7.26" dy="2.1" font-size="6.806" font-style="oblique">m</tspan><tspan x="14.47" dy="-2.1">(</tspan><tspan x="18.48" font-style="oblique">t</tspan><tspan x="24.57">=</tspan><tspan x="34.36">0</tspan><tspan x="40.72">)</tspan></text></g><g transform="translate(22.4 373.4) rotate(-90)"><text x="0" y="3.36" text-anchor="middle" font-size="13.889">|</text><text x="48.1" y="3.36" text-anchor="middle" font-size="13.889">|</text><rect x="1.8" y="-0.4" width="44.80" height="1.0" fill="#000"/><text x="13.45" y="-4.4" font-size="9.722" font-style="oblique">δE<tspan dy="1.0" font-size="6.806">m</tspan></text><text y="8.6" font-size="9.722"><tspan x="1.39" font-style="oblique">E</tspan><tspan x="7.26" dy="2.1" font-size="6.806" font-style="oblique">m</tspan><tspan x="14.47" dy="-2.1">(</tspan><tspan x="18.48" font-style="oblique">t</tspan><tspan x="24.57">=</tspan><tspan x="34.36">0</tspan><tspan x="40.72">)</tspan></text></g></g></svg>
</body></html>
